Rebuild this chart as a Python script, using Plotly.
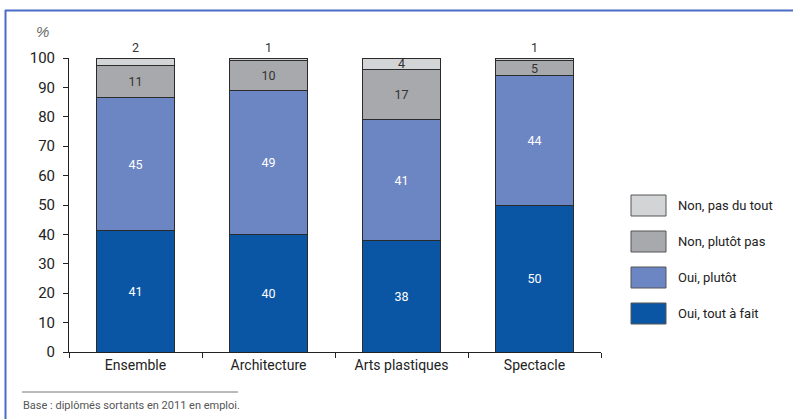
import plotly.graph_objects as go

categories = ["Ensemble", "Architecture", "Arts plastiques", "Spectacle"]
oui_tout_a_fait = [41.2, 40, 38, 50]
oui_plutot = [45.4, 49, 41, 44]
non_plutot_pas = [11.0, 10, 17, 5]
non_pas_du_tout = [2.4, 1, 4, 1]
series_names = ["Oui, tout à fait", "Oui, plutôt", "Non, plutôt pas", "Non, pas du tout"]
y_ticks = [0, 10, 20, 30, 40, 50, 60, 70, 80, 90, 100]

FONT = "Roboto, Liberation Sans, sans-serif"
colors = ["#0b56a4", "#6c85c3", "#a8a9ac", "#d3d4d6"]
text_colors = ["white", "white", "#333333", "#333333"]
series = [oui_tout_a_fait, oui_plutot, non_plutot_pas, non_pas_du_tout]

fig = go.Figure()
for i, (name, vals) in enumerate(zip(series_names, series)):
    if i == 3:
        pos = ["inside" if v >= 4 else "outside" for v in vals]
    else:
        pos = "inside"
    fig.add_trace(go.Bar(
        x=categories, y=vals, name=name,
        marker=dict(color=colors[i], line=dict(color="#2b2b2b", width=1)),
        texttemplate="%{y:.0f}", textposition=pos, textangle=0,
        insidetextanchor="middle",
        textfont=dict(family=FONT, size=12.5, color=text_colors[i]),
        outsidetextfont=dict(family=FONT, size=12.5, color="#333333"),
        constraintext="none", cliponaxis=False, showlegend=False,
        hoverinfo="skip",
    ))

fig.update_layout(
    barmode="stack", bargap=0.42,
    width=794, height=419,
    margin=dict(l=69, r=193, t=58, b=67),
    paper_bgcolor="white", plot_bgcolor="white",
    font=dict(family=FONT, color="#222222"),
)
fig.update_xaxes(
    type="category", tickson="boundaries", ticks="outside", ticklen=5,
    tickcolor="#222", showline=True, linecolor="#222", linewidth=1,
    showgrid=False, tickfont=dict(family=FONT, size=14, color="#222"),
)
fig.update_yaxes(
    range=[0, 100], tickvals=y_ticks, ticks="outside", ticklen=5,
    tickcolor="#222", showline=True, linecolor="#222", linewidth=1,
    showgrid=False, zeroline=False, ticklabelstandoff=5,
    tickfont=dict(family=FONT, size=15, color="#222"),
)

# Manual legend (top to bottom)
legend_order = [3, 2, 1, 0]
for k, idx in enumerate(legend_order):
    y0 = 195 + k * 36
    fig.add_shape(type="rect", xref="paper", yref="paper",
                  x0=(631 - 69) / 532, x1=(666 - 69) / 532,
                  y0=(352 - (y0 + 21)) / 294, y1=(352 - y0) / 294,
                  fillcolor=colors[idx], line=dict(color="#555555", width=1))
    fig.add_annotation(xref="paper", yref="paper",
                       x=(676 - 69) / 532, y=(352 - (y0 + 10.5)) / 294,
                       text=series_names[idx], showarrow=False,
                       xanchor="left", yanchor="middle",
                       font=dict(family=FONT, size=13, color="#222"))

# % unit label
fig.add_annotation(xref="paper", yref="paper", x=(42 - 69) / 532, y=(352 - 32) / 294,
                   text="<i>%</i>", showarrow=False, xanchor="center", yanchor="middle",
                   font=dict(family="Liberation Sans, DejaVu Sans, sans-serif", size=15, color="#666"))

# footnote
fig.add_shape(type="line", xref="paper", yref="paper",
              x0=(22 - 69) / 532, x1=(238 - 69) / 532,
              y0=(352 - 392) / 294, y1=(352 - 392) / 294,
              line=dict(color="#777777", width=1))
fig.add_annotation(xref="paper", yref="paper", x=(21 - 69) / 532, y=(352 - 405) / 294,
                   text="Base : diplômés sortants en 2011 en emploi.", showarrow=False,
                   xanchor="left", yanchor="middle",
                   font=dict(family=FONT, size=11, color="#555"))

# frame (top and left blue lines)
fig.add_shape(type="line", xref="paper", yref="paper",
              x0=(5 - 69) / 532, x1=(793 - 69) / 532,
              y0=(352 - 10.5) / 294, y1=(352 - 10.5) / 294,
              line=dict(color="#4a6cc6", width=2))
fig.add_shape(type="line", xref="paper", yref="paper",
              x0=(5.5 - 69) / 532, x1=(5.5 - 69) / 532,
              y0=(352 - 10) / 294, y1=(352 - 419) / 294,
              line=dict(color="#4a6cc6", width=2))

fig.write_html("out.html", config={"displayModeBar": False},
               post_script="document.body.style.margin='0';")
